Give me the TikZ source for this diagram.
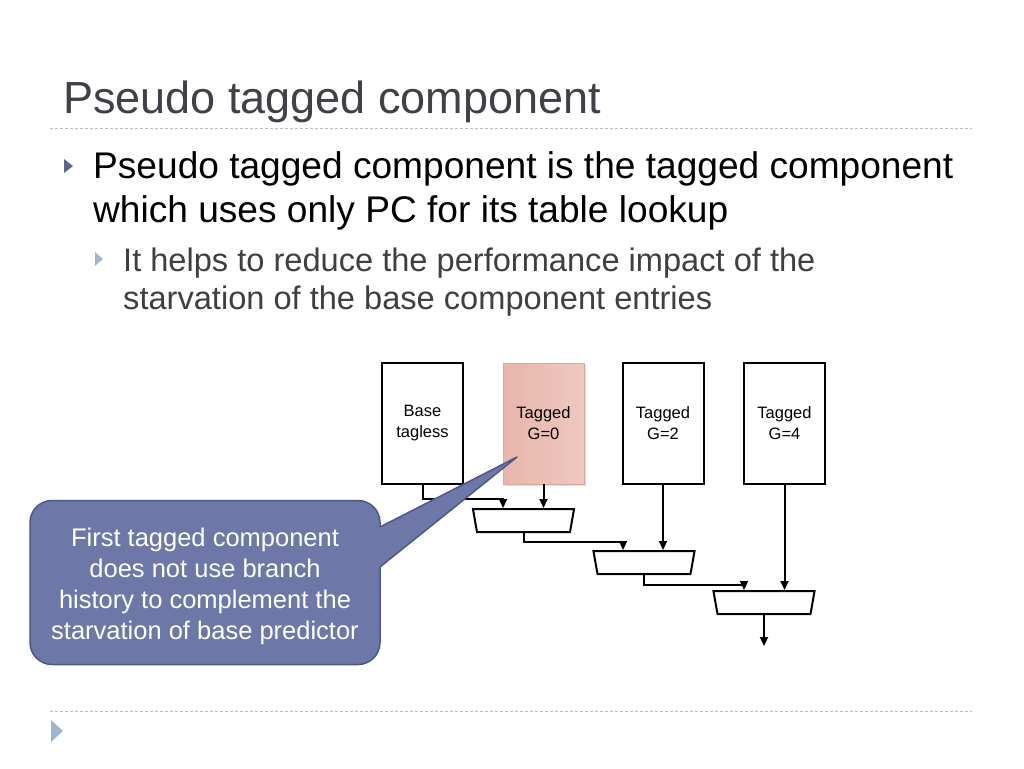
\documentclass[tikz,border=0pt]{standalone}
\usepackage{fontspec}
\setmainfont{Liberation Sans}
\usetikzlibrary{arrows.meta,shapes.geometric,shadows}
\definecolor{titlegray}{HTML}{404048}
\definecolor{subgray}{HTML}{3F3F3F}
\definecolor{rulegray}{HTML}{BBBBBB}
\definecolor{bulletdark}{HTML}{5F6390}
\definecolor{bulletlight}{HTML}{A0B4CB}
\definecolor{pinkL}{HTML}{E8B5AA}
\definecolor{pinkR}{HTML}{EEC9C1}
\definecolor{pinkline}{HTML}{D8A89C}
\definecolor{notefill}{HTML}{6E78A8}
\definecolor{noteline}{HTML}{4E5887}
\begin{document}
\begin{tikzpicture}[x=1pt, y=-1pt,
    txt/.style={anchor=base west, inner sep=0pt},
    sepline/.style={rulegray, line width=1pt, dash pattern=on 3pt off 2pt},
    tbl/.style={draw, line width=2pt, minimum width=81pt, minimum height=121pt,
      align=center, font=\fontsize{16.5}{21}\selectfont, fill=white},
    mux/.style={draw, line width=2pt, trapezium, shape border rotate=180,
      trapezium left angle=80, trapezium right angle=80,
      inner xsep=46.5pt, inner ysep=11.5pt, fill=white},
    wire/.style={line width=2pt, -{Triangle[length=9pt,width=8pt]}}]
  \useasboundingbox (0,0) rectangle (1024,768);

  % title and rules
  \node[txt, titlegray, font=\fontsize{45}{50}\selectfont] (title) at (63,113) {Pseudo tagged component};
  \draw[sepline] (50,128) -- (972,128);
  \draw[sepline] (50,711) -- (972,711);
  \fill[bulletlight] (51,720) -- (63,731) -- (51,742) -- cycle;

  % bullets
  \fill[bulletdark] (64,159) -- (73,166) -- (64,173) -- cycle;
  \node[txt, font=\fontsize{37.1}{44}\selectfont] (b1a) at (93,178) {Pseudo tagged component is the tagged component};
  \node[txt, font=\fontsize{37.1}{44}\selectfont] (b1b) at (93,222) {which uses only PC for its table lookup};
  \fill[bulletlight] (95,252) -- (103,259) -- (95,266) -- cycle;
  \node[txt, subgray, font=\fontsize{32.6}{38}\selectfont] (b2a) at (123,271) {It helps to reduce the performance impact of the};
  \node[txt, subgray, font=\fontsize{32.6}{38}\selectfont] (b2b) at (123,309) {starvation of the base component entries};

  % tables
  \node[tbl] (base) at (422.5,423.5) {Base\\tagless};
  \node[tbl, draw=pinkline, line width=0.8pt, left color=pinkL, right color=pinkR,
    drop shadow={opacity=0.25, shadow xshift=1.5pt, shadow yshift=-1.5pt}] (g0) at (543.5,423.5) {Tagged\\G=0};
  \node[tbl] (g2) at (663,423.5) {Tagged\\G=2};
  \node[tbl] (g4) at (784.5,423.5) {Tagged\\G=4};

  % muxes
  \node[mux] (mux1) at (523.5,520.5) {};
  \node[mux] (mux2) at (644,562.5) {};
  \node[mux] (mux3) at (764,602.5) {};
  \coordinate (out) at (764,646);

  \draw[wire] (base.south) -- ++(0,14) -| ([xshift=-20.5pt]mux1.north);
  \draw[wire] (g0.south) -- (g0.south |- mux1.north);
  \draw[wire] (mux1.south) -- ++(0,9) -| ([xshift=-21pt]mux2.north);
  \draw[wire] (g2.south) -- (g2.south |- mux2.north);
  \draw[wire] (mux2.south) -- ++(0,10) -| ([xshift=-20pt]mux3.north);
  \draw[wire] (g4.south) -- (g4.south |- mux3.north);
  \draw[wire] (mux3.south) -- (out);

  % callout
  \node[fill=notefill, draw=noteline, line width=1.5pt, rounded corners=22pt,
    minimum width=350pt, minimum height=164pt] (note) at (205,582.5) {};
  \coordinate (tip) at (517,457);
  \coordinate (ptrA) at (380,527);
  \coordinate (ptrB) at (380,567);
  \fill[notefill] ([xshift=-4pt]ptrA) -- (ptrA) -- (tip) -- (ptrB) -- ([xshift=-4pt]ptrB) -- cycle;
  \draw[noteline, line width=1.5pt, line join=round] (ptrA) -- (tip) -- (ptrB);
  \node[align=center, text=white, font=\fontsize{25.5}{31}\selectfont] (notetext) at (205,586.5)
    {First tagged component\\does not use branch\\history to complement the\\starvation of base predictor};
\end{tikzpicture}
\end{document}
